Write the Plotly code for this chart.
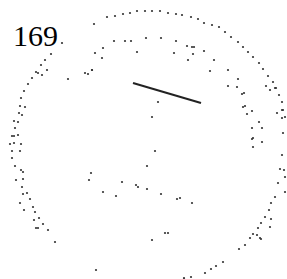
import plotly.graph_objects as go

# Outer dotted boundary (pixel-space coordinates)
outer_x = [94, 107, 115, 123, 130, 137, 145, 152, 160, 168, 176, 182, 191, 198, 204, 212, 219, 225, 231, 238,
           243, 248, 253, 259, 263, 268, 273, 276, 279, 282, 283, 285, 283, 282, 285, 285, 278, 275, 271, 269,
           265, 261, 258, 253, 250, 245, 239, 223, 216, 211, 205, 191, 184,
           62, 51, 45, 41, 36, 32, 28, 24, 21, 20, 19, 14, 15, 12, 10, 12, 12, 15, 16, 22, 23, 27, 30, 33,
           35, 39, 43, 48, 55, 14, 18, 14, 21, 20, 21, 23, 23, 20, 24, 34, 36, 38]
outer_y = [24, 17, 16, 14, 13, 11, 11, 11, 11, 13, 14, 15, 17, 19, 23, 25, 27, 32, 37, 42,
           47, 52, 57, 63, 69, 76, 82, 88, 95, 102, 110, 117, 133, 155, 177, 192, 183, 197, 203, 210,
           217, 223, 228, 234, 238, 245, 249, 262, 266, 269, 273, 277, 278,
           43, 54, 60, 65, 72, 78, 84, 91, 98, 106, 113, 121, 128, 136, 144, 151, 158, 166, 180, 187, 194, 193, 199, 207,
           212, 218, 224, 230, 242, 136, 135, 143, 144, 151, 170, 172, 179, 203, 210, 220, 228, 228]

# Inner dotted structures
inner_x = [114, 125, 131, 146, 161, 176, 187, 192, 194, 204, 193, 188, 214, 210, 137, 174, 103, 95, 102, 92,
           228, 238, 228, 237, 244, 242, 245, 243, 247, 252, 259, 262, 252, 253, 266, 270, 275, 277, 282, 282,
           252, 262, 253, 280, 284, 270, 271, 260, 257, 261,
           158, 152, 155, 147, 91, 89, 103, 116, 122, 136, 138, 147, 161, 177, 180, 192, 165, 168, 152, 96,
           38, 42, 47, 68, 85, 88, 92, 18, 22, 25]
inner_y = [41, 41, 41, 38, 38, 41, 46, 47, 47, 51, 54, 60, 60, 71, 52, 53, 48, 53, 58, 70,
           70, 79, 86, 87, 93, 94, 106, 107, 114, 111, 122, 128, 128, 138, 86, 90, 88, 113, 110, 118,
           139, 142, 147, 169, 170, 227, 219, 238, 235, 239,
           102, 117, 151, 166, 173, 180, 192, 196, 182, 185, 187, 189, 194, 199, 198, 203, 233, 233, 240, 270,
           73, 75, 70, 79, 73, 74, 70, 122, 115, 107]

# Solid stroke
seg_x = [133, 201]
seg_y = [83, 103]

label_text = "169"

fig = go.Figure()
fig.add_trace(go.Scatter(x=outer_x, y=outer_y, mode="markers",
                         marker=dict(size=2.2, color="#333333", line=dict(width=0)),
                         hoverinfo="skip"))
fig.add_trace(go.Scatter(x=inner_x, y=inner_y, mode="markers",
                         marker=dict(size=2.2, color="#333333", line=dict(width=0)),
                         hoverinfo="skip"))
fig.add_trace(go.Scatter(x=seg_x, y=seg_y, mode="lines",
                         line=dict(color="#222222", width=2), hoverinfo="skip"))

fig.add_annotation(x=11, y=35, xref="x", yref="y", text=label_text, showarrow=False,
                   xanchor="left", yanchor="middle",
                   font=dict(family="Liberation Serif", size=30, color="#000000"))

fig.update_layout(width=287, height=279, margin=dict(l=0, r=0, t=0, b=0),
                  paper_bgcolor="white", plot_bgcolor="white", showlegend=False)
fig.update_xaxes(range=[0, 287], visible=False, fixedrange=True)
fig.update_yaxes(range=[279, 0], visible=False, fixedrange=True)

fig.write_html("out.html", config={"displayModeBar": False},
               post_script="document.body.style.margin='0';document.body.style.overflow='hidden';")
